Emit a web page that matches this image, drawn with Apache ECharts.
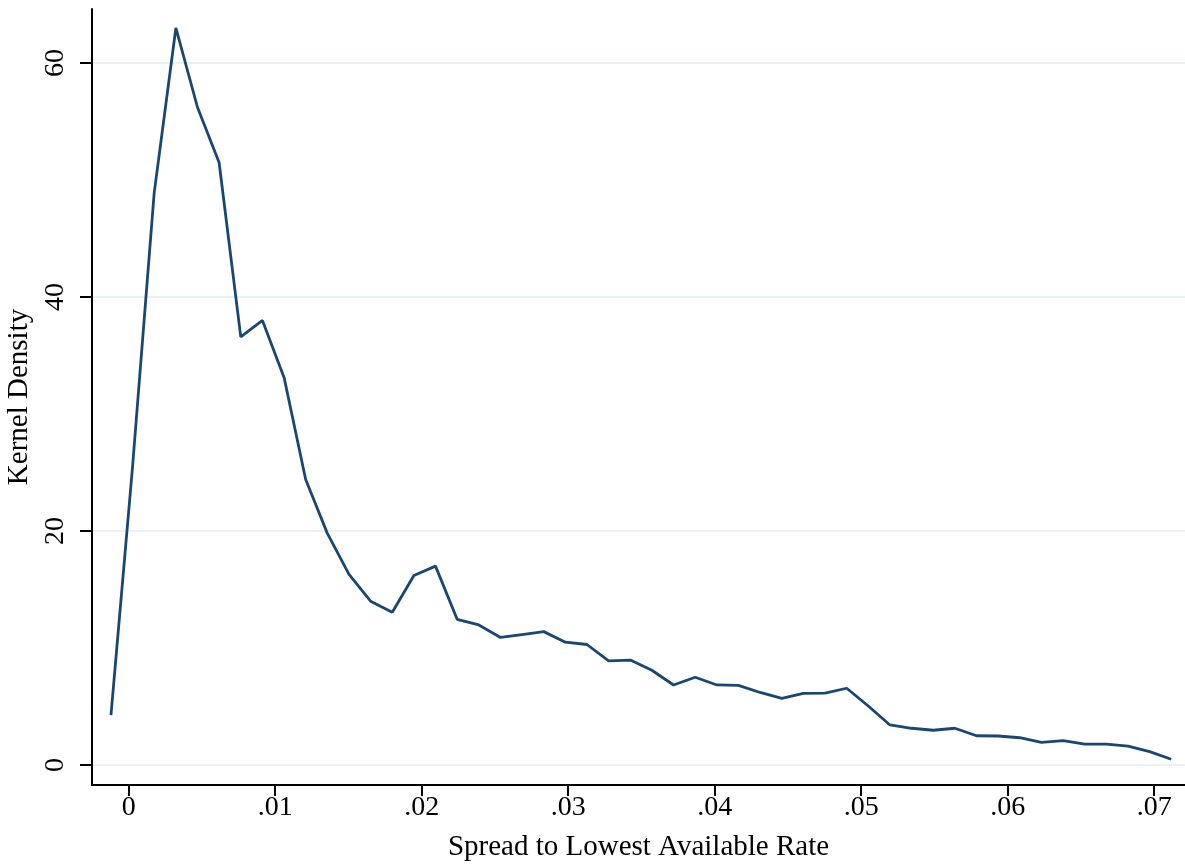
<!DOCTYPE html>
<html>
<head>
<meta charset="utf-8">
<script src="https://cdn.jsdelivr.net/npm/echarts@6/dist/echarts.min.js"></script>
<style>
html,body{margin:0;padding:0;background:#fff;}
#chart{width:1185px;height:867px;}
</style>
</head>
<body>
<div id="chart"></div>
<script>
// Spread to lowest available rate (kernel density evaluation points)
const spread = [-0.00121, 0.00027, 0.00174, 0.00322, 0.00470, 0.00617, 0.00765, 0.00913, 0.01061, 0.01208,
  0.01356, 0.01504, 0.01651, 0.01799, 0.01947, 0.02094, 0.02242, 0.02390, 0.02538, 0.02685,
  0.02833, 0.02981, 0.03128, 0.03276, 0.03424, 0.03571, 0.03719, 0.03867, 0.04015, 0.04162,
  0.04310, 0.04458, 0.04605, 0.04753, 0.04901, 0.05048, 0.05196, 0.05344, 0.05492, 0.05639,
  0.05787, 0.05935, 0.06082, 0.06230, 0.06378, 0.06525, 0.06673, 0.06821, 0.06969, 0.07116];
const density = [4.27, 25.6, 48.9, 63.0, 56.2, 51.5, 36.6, 38.0, 33.1, 24.4,
  19.8, 16.3, 14.0, 13.05, 16.2, 17.0, 12.45, 11.97, 10.9, 11.15,
  11.4, 10.5, 10.3, 8.9, 8.97, 8.1, 6.84, 7.5, 6.84, 6.8,
  6.2, 5.7, 6.13, 6.15, 6.56, 5.04, 3.42, 3.14, 2.97, 3.14,
  2.50, 2.48, 2.33, 1.94, 2.08, 1.79, 1.79, 1.62, 1.14, 0.49];
const xTicks = [0, 0.01, 0.02, 0.03, 0.04, 0.05, 0.06, 0.07];
const xTickLabels = ['0', '.01', '.02', '.03', '.04', '.05', '.06', '.07'];
const yTicks = [0, 20, 40, 60];
const yTickLabels = ['0', '20', '40', '60'];
const xTitle = 'Spread to Lowest Available Rate';
const yTitle = 'Kernel Density';

const font = '"Liberation Serif", "Times New Roman", serif';
const chart = echarts.init(document.getElementById('chart'), null, {renderer: 'canvas'});
const xLabelMap = {};
xTicks.forEach((v, i) => { xLabelMap[v.toFixed(2)] = xTickLabels[i]; });
const yLabelMap = {};
yTicks.forEach((v, i) => { yLabelMap[String(v)] = yTickLabels[i]; });

chart.setOption({
  animation: false,
  backgroundColor: '#ffffff',
  grid: {left: 92, right: 0, top: 9, bottom: 82, containLabel: false, outerBoundsMode: 'none'},
  xAxis: {
    type: 'value',
    min: -0.002505,
    max: 0.0721,
    name: xTitle,
    nameLocation: 'middle',
    nameGap: 48,
    nameTextStyle: {fontFamily: font, fontSize: 29, color: '#000'},
    axisLine: {show: true, onZero: false, lineStyle: {color: '#000', width: 2}},
    axisTick: {show: true, length: 11, lineStyle: {color: '#000', width: 2}, customValues: xTicks},
    axisLabel: {
      customValues: xTicks,
      margin: 9,
      fontFamily: font, fontSize: 28, color: '#000',
      formatter: v => xLabelMap[Number(v).toFixed(2)] ?? ''
    },
    splitLine: {show: false}
  },
  yAxis: {
    type: 'value',
    min: -1.71,
    max: 64.62,
    name: yTitle,
    nameLocation: 'middle',
    nameGap: 45,
    nameRotate: 90,
    nameTextStyle: {fontFamily: font, fontSize: 29, color: '#000'},
    axisLine: {show: true, onZero: false, lineStyle: {color: '#000', width: 2}},
    axisTick: {show: true, length: 12, lineStyle: {color: '#000', width: 2}, customValues: yTicks},
    axisLabel: {
      customValues: yTicks,
      rotate: 90,
      margin: 22,
      fontFamily: font, fontSize: 28, color: '#000',
      formatter: v => yLabelMap[String(Math.round(v))] ?? ''
    },
    splitLine: {show: true, lineStyle: {color: '#eaf2f3', width: 2}}
  },
  series: [{
    type: 'line',
    data: spread.map((x, i) => [x, density[i]]),
    showSymbol: false,
    symbol: 'none',
    lineStyle: {color: '#1a476f', width: 2.8},
    z: 3
  }]
});
</script>
</body>
</html>
